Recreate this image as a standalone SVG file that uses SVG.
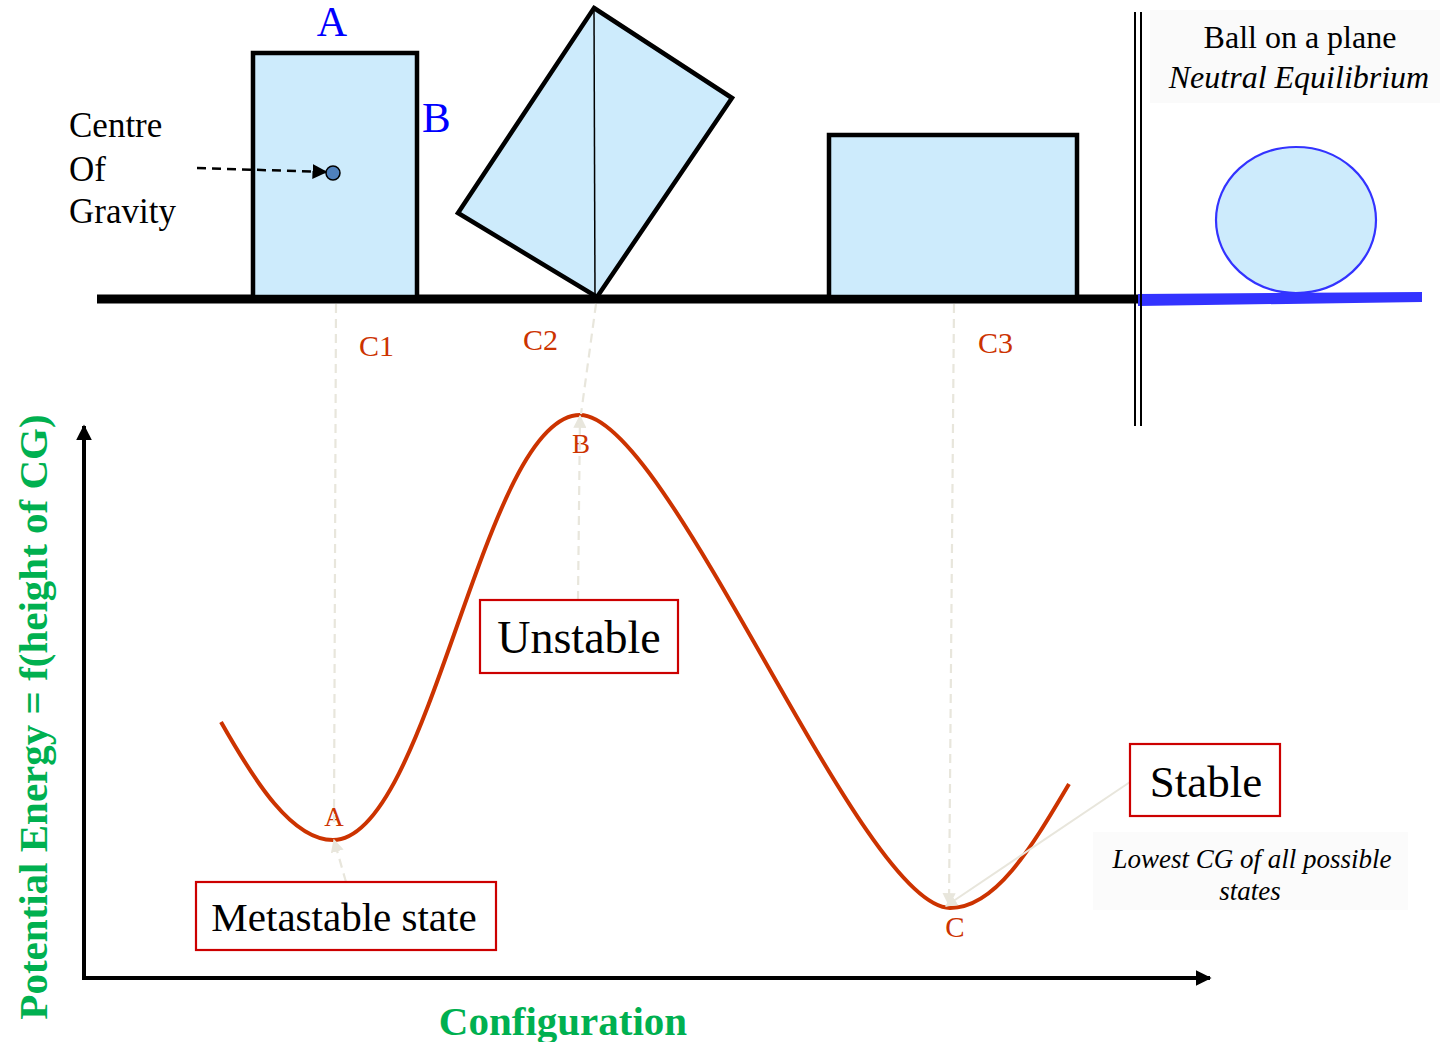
<svg xmlns="http://www.w3.org/2000/svg" width="1442" height="1042" viewBox="0 0 1442 1042">
<style>
.serif{font-family:"Liberation Serif","Times New Roman",Times,serif}
.blk{fill:#000}
.blue{fill:#0000ff}
.red{fill:#cc3300}
.green{fill:#00b050;font-weight:bold}
.shape{fill:#cdebfc;stroke:#000;stroke-width:4.5}
.box{fill:#fff;stroke:#cc0000;stroke-width:2.2}
.guide{fill:none;stroke:#e8e6dc;stroke-width:2.2;stroke-dasharray:9 6}
.axis{fill:none;stroke:#000;stroke-width:4}
</style>
<defs>
<marker id="ah" viewBox="0 0 10 10" refX="9" refY="5" markerWidth="4" markerHeight="4" orient="auto"><path d="M0,0L10,5L0,10z" fill="#000"/></marker>
<marker id="gh" viewBox="0 0 10 10" refX="9" refY="5" markerWidth="6" markerHeight="6" orient="auto"><path d="M0,0L10,5L0,10z" fill="#e8e6dc"/></marker>
<marker id="ah2" viewBox="0 0 10 10" refX="9" refY="5" markerWidth="6" markerHeight="6" orient="auto"><path d="M0,0L10,5L0,10z" fill="#000"/></marker>
</defs>
<rect width="1442" height="1042" fill="#fff"/>

<rect x="1150" y="10" width="290" height="93" fill="#fafafa"/>
<rect x="1093" y="832" width="315" height="78" fill="#fbfbfb"/>

<g id="ground">
<line x1="97" y1="299" x2="1140" y2="299" stroke="#000" stroke-width="9"/>
<polygon points="1138,294 1422,292 1422,302 1138,306" fill="#3333ff"/>
<line x1="1135" y1="12" x2="1135" y2="426" stroke="#000" stroke-width="2"/>
<line x1="1141" y1="12" x2="1141" y2="426" stroke="#000" stroke-width="2"/>
</g>

<g id="block1">
<rect class="shape" x="253" y="53" width="164" height="244"/>
<circle cx="333" cy="173" r="7" fill="#4f81bd" stroke="#000" stroke-width="1.5"/>
<text class="serif blue" x="332" y="36" font-size="42" text-anchor="middle">A</text>
<text class="serif blue" x="422" y="132" font-size="43">B</text>
</g>

<g id="cog-label">
<text class="serif blk" x="69" y="137" font-size="35">Centre</text>
<text class="serif blk" x="69" y="181" font-size="35">Of</text>
<text class="serif blk" x="69" y="223" font-size="35">Gravity</text>
</g>

<g id="block2">
<polygon class="shape" points="594,8 732,98 597,297 458,213"/>
<line x1="594" y1="8" x2="595" y2="299" stroke="#000" stroke-width="1.5"/>
</g>

<g id="block3">
<rect class="shape" x="829" y="135" width="248" height="162"/>
</g>

<g id="ball">
<ellipse cx="1296" cy="220" rx="80" ry="73" fill="#cdebfc" stroke="#3333ff" stroke-width="2.2"/>
<text class="serif blk" x="1300" y="48" font-size="32" text-anchor="middle">Ball on a plane</text>
<text class="serif blk" x="1299" y="88" font-size="32" text-anchor="middle" font-style="italic">Neutral Equilibrium</text>
</g>

<g id="c-labels">
<text class="serif red" x="359" y="356" font-size="30">C1</text>
<text class="serif red" x="523" y="350" font-size="30">C2</text>
<text class="serif red" x="978" y="353" font-size="30">C3</text>
</g>

<g id="axes">
<line class="axis" x1="84" y1="980" x2="84" y2="426" marker-end="url(#ah)"/>
<line class="axis" x1="82" y1="978" x2="1210" y2="978" marker-end="url(#ah)"/>
<text class="serif green" transform="translate(47,717) rotate(-90)" font-size="41" text-anchor="middle">Potential Energy = f(height of CG)</text>
<text class="serif green" x="563" y="1035" font-size="41" text-anchor="middle">Configuration</text>
</g>

<g id="curve">
<path d="M221,722 C255,782 292,840 333,840 C430,840 483,415 580,415 C669,415 861,908 950,908 C995,908 1030,850 1069,784" fill="none" stroke="#cc3300" stroke-width="4"/>
<text class="serif red" x="334" y="826" font-size="27" text-anchor="middle">A</text>
<text class="serif red" x="581" y="453" font-size="27" text-anchor="middle">B</text>
<text class="serif red" x="955" y="937" font-size="29" text-anchor="middle">C</text>
</g>

<g id="connectors">
<line x1="197" y1="168" x2="326" y2="172" stroke="#000" stroke-width="2.5" stroke-dasharray="9 6" marker-end="url(#ah2)"/>
<line class="guide" x1="336" y1="304" x2="334" y2="822"/>
<line class="guide" x1="596" y1="304" x2="581" y2="414"/>
<line class="guide" x1="578" y1="600" x2="580" y2="416" marker-end="url(#gh)"/>
<line class="guide" x1="954" y1="304" x2="949" y2="905" marker-end="url(#gh)"/>
<line class="guide" x1="346" y1="882" x2="334" y2="840" marker-end="url(#gh)"/>
<line x1="1130" y1="782" x2="946" y2="906" stroke="#e8e6dc" stroke-width="2" marker-end="url(#gh)"/>
</g>

<g id="unstable">
<rect class="box" x="480" y="600" width="198" height="73"/>
<text class="serif blk" x="579" y="653" font-size="46" text-anchor="middle">Unstable</text>
</g>
<g id="metastable">
<rect class="box" x="196" y="882" width="300" height="68"/>
<text class="serif blk" x="344" y="931" font-size="41" text-anchor="middle">Metastable state</text>
</g>
<g id="stable">
<rect class="box" x="1130" y="744" width="150" height="72"/>
<text class="serif blk" x="1206" y="797" font-size="45" text-anchor="middle">Stable</text>
</g>
<g id="stable-note">
<text class="serif blk" x="1252" y="868" font-size="27" font-style="italic" text-anchor="middle">Lowest CG of all possible</text>
<text class="serif blk" x="1250" y="900" font-size="27" font-style="italic" text-anchor="middle">states</text>
</g>
</svg>
